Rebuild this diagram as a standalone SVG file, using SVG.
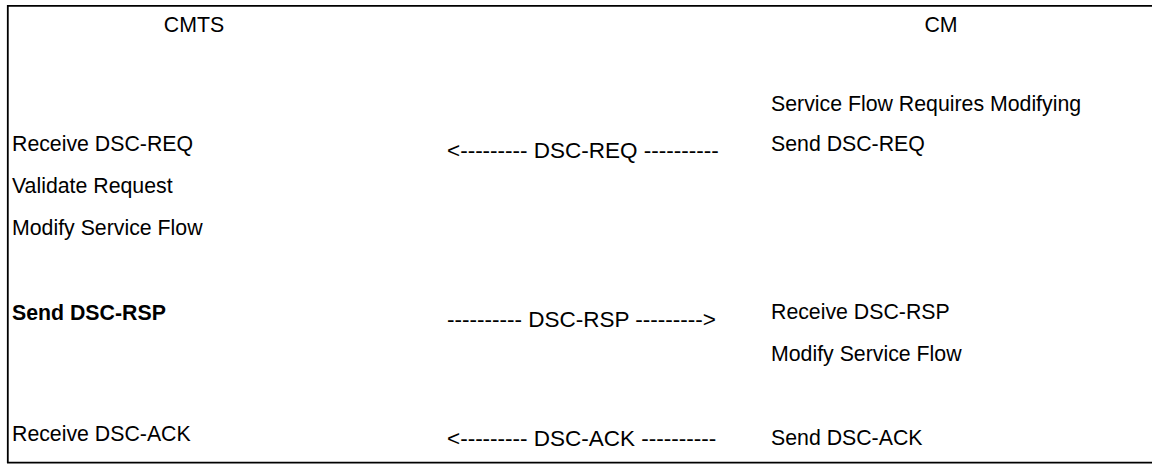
<svg xmlns="http://www.w3.org/2000/svg" width="1152" height="464" viewBox="0 0 1152 464">
<style>
text{font-family:"Liberation Sans",Arial,sans-serif;font-size:21.3px;fill:#000}
.b{font-weight:bold}
.m{font-size:22.5px}
.c{text-anchor:middle}
</style>
<rect width="1152" height="464" fill="#fff"/>
<path d="M7.8 5.8H1152M7.8 5V463M7 462.6H1152" stroke="#000" stroke-width="1.8" fill="none"/>
<g id="cmts">
<text class="c" x="194" y="32">CMTS</text>
<text x="12" y="151">Receive DSC-REQ</text>
<text x="12" y="193">Validate Request</text>
<text x="12" y="235">Modify Service Flow</text>
<text class="b" x="12" y="320">Send DSC-RSP</text>
<text x="12" y="441">Receive DSC-ACK</text>
</g>
<g id="messages">
<text class="m" x="447" y="158">&lt;--------- DSC-REQ ----------</text>
<text class="m" x="447" y="327">---------- DSC-RSP ---------&gt;</text>
<text class="m" x="447" y="446">&lt;--------- DSC-ACK ----------</text>
</g>
<g id="cm">
<text class="c" x="941" y="32">CM</text>
<text x="771" y="111">Service Flow Requires Modifying</text>
<text x="771" y="151">Send DSC-REQ</text>
<text x="771" y="319">Receive DSC-RSP</text>
<text x="771" y="361">Modify Service Flow</text>
<text x="771" y="445">Send DSC-ACK</text>
</g>
</svg>
